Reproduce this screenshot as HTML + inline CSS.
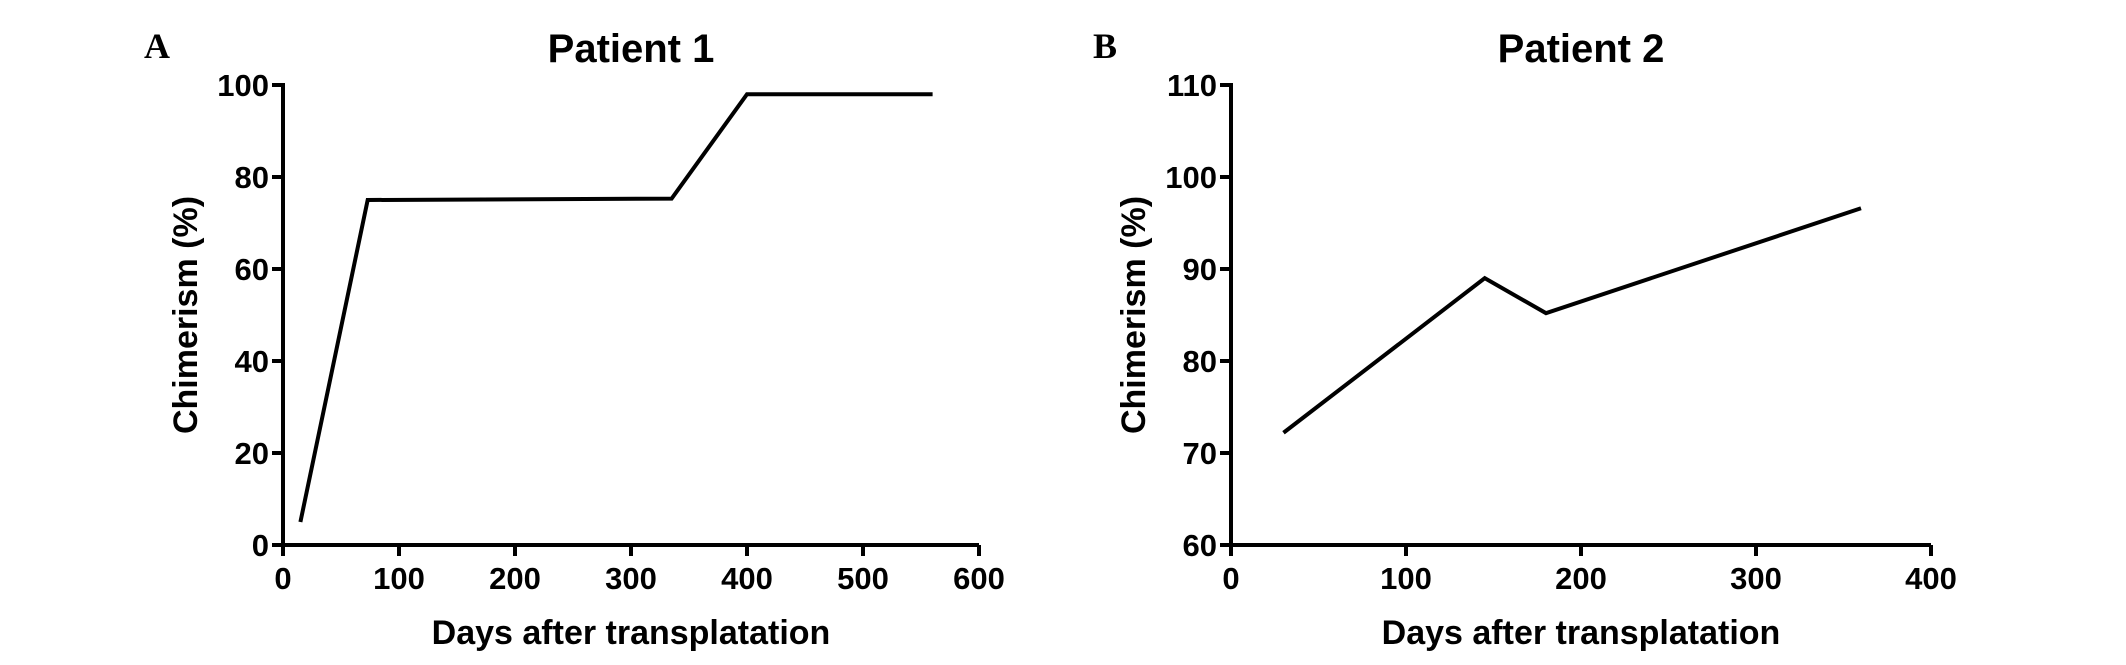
<!DOCTYPE html>
<html><head><meta charset="utf-8"><style>
body{margin:0;background:#fff}
svg text{font-family:"Liberation Sans",Arial,sans-serif;font-weight:bold;fill:#000}
</style></head><body>
<svg id="c" width="2126" height="660" viewBox="0 0 2126 660"></svg>
<script>
const daysA=[15,73,335,400,560];
const valsA=[5,75,75.3,98,98];
const xTicksA=[0,100,200,300,400,500,600];
const yTicksA=[0,20,40,60,80,100];
const daysB=[30,145,180,360];
const valsB=[72.2,89,85.2,96.6];
const xTicksB=[0,100,200,300,400];
const yTicksB=[60,70,80,90,100,110];
const svg=document.getElementById('c');
const NS='http://www.w3.org/2000/svg';
function el(t,a,p){const e=document.createElementNS(NS,t);for(const k in a)e.setAttribute(k,a[k]);(p||svg).appendChild(e);return e;}
function panel(cfg){
  const g=el('g',{});
  
  
  const sx=v=>cfg.x0+(v-cfg.xmin)/(cfg.xmax-cfg.xmin)*(cfg.x1-cfg.x0);
  const sy=v=>cfg.y0+(v-cfg.ymin)/(cfg.ymax-cfg.ymin)*(cfg.y1-cfg.y0);
  let t=el('text',{x:cfg.letterX,y:58,'font-size':36,style:'font-family:"Liberation Serif",serif'},g);t.textContent=cfg.letter;
  
  t=el('text',{x:(cfg.x0+cfg.x1)/2,y:62,'font-size':40,'text-anchor':'middle'},g);t.textContent=cfg.title;
  
  const ax=el('path',{d:`M${cfg.x0} ${cfg.y1-2}V${cfg.y0}H${cfg.x1}`,stroke:'#000','stroke-width':4,fill:'none'},g);
  
  cfg.yt.forEach(v=>{const y=sy(v);
    el('line',{x1:cfg.x0-11,x2:cfg.x0,y1:y,y2:y,stroke:'#000','stroke-width':4},g);
    const l=el('text',{x:cfg.x0-14,y:y+11,'font-size':31,'text-anchor':'end'},g);l.textContent=v;
    });
  cfg.xt.forEach(v=>{const x=sx(v);
    el('line',{x1:x,x2:x,y1:cfg.y0,y2:cfg.y0+11,stroke:'#000','stroke-width':4},g);
    const l=el('text',{x:x,y:cfg.y0+44,'font-size':31,'text-anchor':'middle'},g);l.textContent=v;
    });
  t=el('text',{x:(cfg.x0+cfg.x1)/2,y:644,'font-size':34,'text-anchor':'middle'},g);t.textContent='Days after transplatation';
  
  const yc=(cfg.y0+cfg.y1)/2;
  t=el('text',{x:cfg.x0-86,y:yc,'font-size':34,'text-anchor':'middle',transform:`rotate(-90 ${cfg.x0-86} ${yc})`},g);t.textContent='Chimerism (%)';
  
  const pts=cfg.xs.map((d,i)=>sx(d)+','+sy(cfg.ys[i])).join(' ');
  const ln=el('polyline',{points:pts,fill:'none',stroke:'#000','stroke-width':4,'stroke-linejoin':'miter'},g);
  
}
panel({name:'panel-a-patient-1',letter:'A',letterX:144,title:'Patient 1',x0:283,x1:979,y0:545,y1:85,xmin:0,xmax:600,ymin:0,ymax:100,xt:xTicksA,yt:yTicksA,xs:daysA,ys:valsA});
panel({name:'panel-b-patient-2',letter:'B',letterX:1093,title:'Patient 2',x0:1231,x1:1931,y0:545,y1:85,xmin:0,xmax:400,ymin:60,ymax:110,xt:xTicksB,yt:yTicksB,xs:daysB,ys:valsB});
</script>
</body></html>
